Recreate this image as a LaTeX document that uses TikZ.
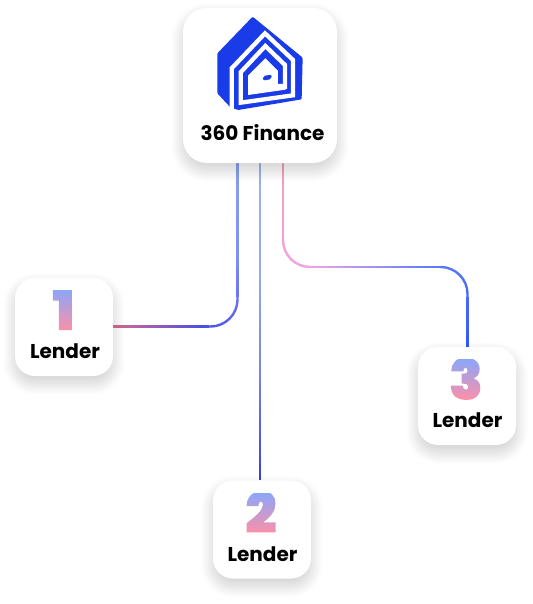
\documentclass[tikz,border=0pt]{standalone}
\usepackage{fontspec}
\setmainfont{Poppins}
\newfontfamily\digitfont{Poppins Black}
\usepackage{xcolor}
\usetikzlibrary{positioning,calc,shadows.blur}

\definecolor{logoblue}{HTML}{1A3BE8}
\definecolor{digittop}{HTML}{8CA6F8}
\definecolor{digitmid}{HTML}{F4AEFA}
\definecolor{digitlow}{HTML}{FF8FA6}
\definecolor{onea}{HTML}{86A2EE}
\definecolor{oneb}{HTML}{7F90F0}
\definecolor{onec}{HTML}{4A50E4}
\definecolor{oned}{HTML}{E0688C}
\definecolor{twoa}{HTML}{A0B0F0}
\definecolor{twob}{HTML}{98A8F0}
\definecolor{twoc}{HTML}{7A80E8}
\definecolor{twod}{HTML}{3A3CD8}
\definecolor{threea}{HTML}{F2A0B8}
\definecolor{threeb}{HTML}{F0A4E8}
\definecolor{threec}{HTML}{6480F8}
\definecolor{threed}{HTML}{2F55F8}

\tikzset{
    x=1pt, y=-1pt,
    cardbox/.style={fill=white, rounded corners=20pt, minimum width=98pt, minimum height=98pt, inner sep=0pt,
        blur shadow={shadow xshift=0pt, shadow yshift=-7pt, shadow blur radius=12pt, shadow blur steps=24, shadow opacity=20}},
    bigcard/.style={cardbox, rounded corners=24pt, minimum width=154pt, minimum height=155pt},
    cardlabel/.style={font=\bfseries\fontsize{20}{22}\selectfont, text=black, inner sep=0pt},
    digitlabel/.style={font=\digitfont\fontsize{56}{60}\selectfont, anchor=base, inner sep=0pt},
    whiteband/.style={draw=white, line width=4.3pt, line join=miter, line cap=butt, fill=none}
}

% one connector, coloured piece by piece along its length
\newcommand{\gradline}[6]{%
    \foreach \i in {0,...,59}{
        \pgfmathsetmacro{\seg}{3*\i/60}
        \pgfmathtruncatemacro{\piece}{floor(\seg)}
        \pgfmathsetmacro{\pct}{100*(1-(\seg-\piece))}
        \pgfmathsetmacro{\dashon}{#2/60+0.4}
        \pgfmathsetmacro{\dashoff}{#2+20}
        \pgfmathsetmacro{\dashph}{\dashon+\dashoff-\i/60*#2}
        \ifcase\piece
            \colorlet{linecol}{#3!\pct!#4}
        \or
            \colorlet{linecol}{#4!\pct!#5}
        \else
            \colorlet{linecol}{#5!\pct!#6}
        \fi
        \draw[line width=2.4pt, draw=linecol, rounded corners=27pt,
            dash pattern=on \dashon pt off \dashoff pt, dash phase=\dashph pt] #1;
    }%
}

% a digit used as clip for a vertical shading
\newcommand{\gradigit}[1]{%
    \special{pdf:code 7 Tr}#1\special{pdf:code 0 Tr}%
    \llap{\tikz[baseline=0pt]{\shade[top color=digittop, middle color=digitmid, bottom color=digitlow] (-70,1) rectangle (0,-40);}}%
}

\begin{document}
\begin{tikzpicture}
    \useasboundingbox (0,0) rectangle (532,604);

    % connectors
    \coordinate (finance1) at (237.5,163);
    \coordinate (finance2) at (260,163);
    \coordinate (finance3) at (283,163);
    \coordinate (lender1port) at (113,326.5);
    \coordinate (lender2port) at (260,480);
    \coordinate (lender3port) at (467.5,347);
    \coordinate (turn3) at (283,267);

    \gradline{(finance1) |- (lender1port)}{277}{onea}{oneb}{onec}{oned}
    \gradline{(finance2) -- (lender2port)}{317}{twoa}{twob}{twoc}{twod}
    \gradline{(finance3) -- (turn3) -| (lender3port)}{347}{threea}{threeb}{threec}{threed}

    % cards
    \node[bigcard] (finance) at (260,85.5) {};
    \node[cardbox] (lender1) at (64,327) {};
    \node[cardbox] (lender2) at (262,529.5) {};
    \node[cardbox] (lender3) at (467,396) {};

    % logo
    \begin{scope}[shift={(210,10)}, x=0.3333pt, y=-0.3333pt]
        \fill[logoblue, rounded corners=1pt] (128,20) -- (278,143) -- (275,268) -- (85,300) -- (62,293) -- (22,250) -- (22,130) -- cycle;
    \end{scope}
    \begin{scope}[shift={(228,40)}, x=0.3333pt, y=-0.3333pt]
        \draw[whiteband] (11,215) -- (11,85) -- (111,-20) -- (195,60) -- (195,166) -- (38,188) -- (38,97) -- (112,18) -- (171,75) -- (171,147);
        \fill[white] (60,107) -- (112,55) -- (150,93) -- (150,132) -- (173,132) -- (173,149) -- (60,165) -- cycle;
        \fill[logoblue, rounded corners=2pt] (105,108) -- (131,104) -- (131,117) -- (105,122) -- cycle;
    \end{scope}

    % labels
    \node[cardlabel] (financelabel) at (262.5,133) {360 Finance};
    \node[cardlabel] (lender1label) at (65,351) {Lender};
    \node[cardlabel] (lender2label) at (262.5,554) {Lender};
    \node[cardlabel] (lender3label) at (467.5,420.5) {Lender};

    % digits
    \node[digitlabel] (digit1) at (63.5,330) {\gradigit{1}};
    \node[digitlabel] (digit2) at (261,533) {\gradigit{2}};
    \node[digitlabel] (digit3) at (466,399.5) {\gradigit{3}};
\end{tikzpicture}
\end{document}
